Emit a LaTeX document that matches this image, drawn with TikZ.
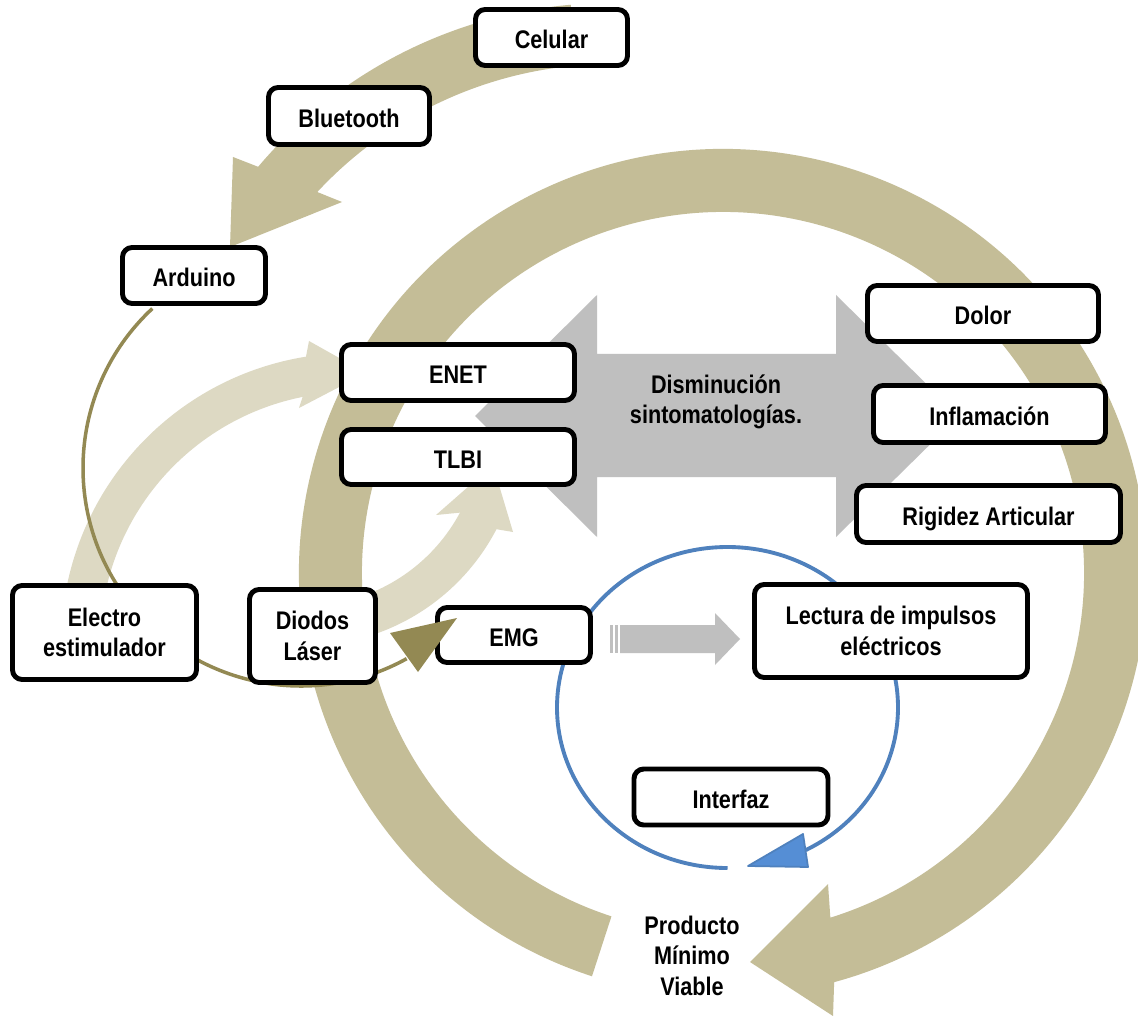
\documentclass[tikz,border=0pt]{standalone}
\usepackage{fontspec}
\setmainfont{Liberation Sans}[FakeStretch=0.85]
\usetikzlibrary{calc}

\definecolor{khaki}{HTML}{C4BD97}
\definecolor{lightkhaki}{HTML}{DDD9C3}
\definecolor{linkolive}{HTML}{938953}
\definecolor{ringblue}{HTML}{4F81BD}
\definecolor{headblue}{HTML}{558ED5}
\definecolor{arrowgray}{HTML}{BFBFBF}

\tikzset{
  lbl/.style={font=\bfseries\fontsize{14.5}{17.3}\selectfont, align=center, inner sep=0pt},
  box/.style={lbl, draw=black, fill=white, line width=2.8pt, rounded corners=5.5pt},
  oneline/.style={text height=13pt, text depth=0pt},
  box size/.style 2 args={minimum width=#1*0.02cm, minimum height=#2*0.02cm},
  bigband/.style={fill=khaki},
  lightband/.style={fill=lightkhaki},
}

\begin{document}
\begin{tikzpicture}[x=0.02cm, y=-0.02cm]
\fill[white] (0,0) rectangle (1138,1016);
\useasboundingbox (0,0) rectangle (1138,1016);

% centres of the curved arrows
\coordinate (c1) at (723,573);
\coordinate (c2) at (611,465);
\coordinate (c3) at (352,644);
\coordinate (c4) at (304,429);
\coordinate (c5) at (301,468);
\coordinate (c6) at (727.5,707.5);

% large circular arrow around the whole cycle
\fill[bigband] ($(c1)+(-252:424)$) arc[start angle=-252, end angle=74.8, radius=424]
  -- (833,1016) -- (750,962) -- (828,884)
  -- ($(c1)+(72.7:361)$) arc[start angle=72.7, end angle=-252, radius=361] -- cycle;

% Celular -> Bluetooth -> Arduino
\fill[bigband] ($(c2)+(-95:462)$) arc[start angle=-95, end angle=-139.8, radius=462]
  -- (233,157) -- (230,247) -- (342,202)
  -- ($(c2)+(-137.1:401)$) arc[start angle=-137.1, end angle=-95, radius=401] -- cycle;

% Electro estimulador -> ENET
\fill[lightband] ($(c3)+(-172:291)$) arc[start angle=-172, end angle=-99.1, radius=291]
  -- (309,341) -- (366,373) -- (299,408)
  -- ($(c3)+(-101.3:252)$) arc[start angle=-101.3, end angle=-172, radius=252] -- cycle;

% Diodos Laser -> TLBI
\fill[lightband] ($(c4)+(80:217)$) arc[start angle=80, end angle=27.5, radius=217]
  -- (513,532) -- (493,465) -- (436,515)
  -- ($(c4)+(28.2:177)$) arc[start angle=28.2, end angle=80, radius=177] -- cycle;

% double arrow behind the symptom boxes
\fill[arrowgray] (475,416) -- (597,295) -- (597,354) -- (836,354) -- (836,295)
  -- (959,416) -- (836,537) -- (836,477) -- (597,477) -- (597,537) -- cycle;

% thin connector Arduino -> Electro -> Diodos -> EMG
\draw[linkolive, line width=2pt] ($(c5)+(-133:218)$) arc[start angle=-133, end angle=-299, radius=218];

% blue loop EMG -> Lectura -> Interfaz
\draw[ringblue, line width=2.2pt] ($(c6)+(90:170.5 and 160.5)$)
  arc[start angle=90, end angle=422.7, x radius=170.5, y radius=160.5];
\filldraw[fill=headblue, draw=ringblue, line width=1pt, line join=round]
  (748,866) -- (803,834) -- (808,867) -- cycle;

% striped arrow EMG -> Lectura
\fill[arrowgray] (610,625) rectangle (612.5,653);
\fill[arrowgray] (614.5,625) rectangle (618,653);
\fill[arrowgray] (620,625) -- (715,625) -- (715,613) -- (740,639) -- (715,665) -- (715,653) -- (620,653) -- cycle;

% boxes
\node[box, oneline, box size={152}{56}] (celular) at (551.5,37.5) {Celular};
\node[box, oneline, box size={161}{57}] (bluetooth) at (349,116) {Bluetooth};
\node[box, oneline, box size={143}{56}] (arduino) at (194,275.5) {Arduino};
\node[box, oneline, box size={233}{56}] (enet) at (458,372.5) {ENET};
\node[box, oneline, box size={233}{55}] (tlbi) at (458,457) {TLBI};
\node[box, oneline, box size={231}{56}] (dolor) at (983,313.5) {Dolor};
\node[box, oneline, box size={232}{57}] (inflam) at (989.5,414) {Inflamación};
\node[box, oneline, box size={264}{57}] (rigidez) at (988.5,514) {Rigidez Articular};
\node[box, box size={184}{94}] (electro) at (104.5,632.5) {Electro\\estimulador};
\node[box, box size={126}{93}] (diodos) at (312.5,636) {Diodos\\Láser};
\node[box, oneline, box size={153}{55}] (emg) at (514,635) {EMG};
\node[box, box size={273}{93}] (lectura) at (891,631) {Lectura de impulsos\\eléctricos};
\node[box, oneline, box size={194}{56}] (interfaz) at (731,797) {Interfaz};

% free labels
\node[lbl] (dism) at (716,402) {Disminución\\sintomatologías.};
\node[lbl] (pmv) at (692,955.5) {Producto\\Mínimo\\Viable};

% arrowhead of the thin connector, lying over the EMG box corner
\fill[linkolive] (390,633) -- (457,618) -- (418,672) -- cycle;
\end{tikzpicture}
\end{document}
